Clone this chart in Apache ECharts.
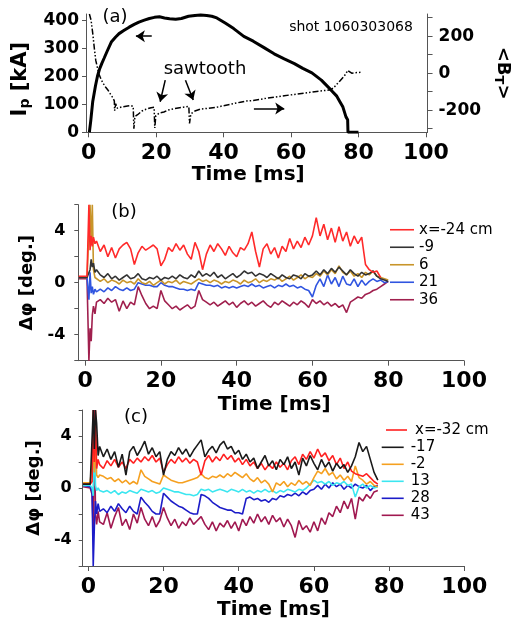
<!DOCTYPE html>
<html><head><meta charset="utf-8">
<script src="https://cdn.jsdelivr.net/npm/echarts@6/dist/echarts.min.js"></script>
<style>html,body{margin:0;padding:0;background:#fff}#c{width:520px;height:621px}</style>
</head><body><div id="c"></div>
<script>
// ---------- Panel (a): plasma current and <B_T> ----------
const ipTime = [0.2,0.6,1.2,2.0,2.6,3.2,3.9,4.6,5.5,6.7,8,9,10.4,12,13.5,14.9,16.5,18,19.5,21,22.5,24,25.8,27.5,29.6,31.5,33.2,35,36.5,38,40.6,43,46,48.8,52,55,58,61,63.5,66.2,69,71.7,73.5,74.5,75.4,76.3,76.8,76.9,78,79,80];
const ipValues = [0,40,110,165,200,225,246,265,290,322,340,352,363,375,385,393,400,406,410,412,408,405,403,406,414,417,418,417,414,408,389,370,342,325,302,280,262,245,228,212,186,153,130,109,90,55,45,0,0,0,0];
const btTime = [0.2,0.7,1.2,1.7,2.1,3,3.7,4.4,5.1,5.8,6.5,7.1,7.6,7.7,8,8.5,9,10,11.5,12.5,13.2,13.4,13.7,14.5,15.8,17,18.5,19.4,19.6,19.9,21,22.3,23.5,25,26.5,28,29.7,29.9,30.3,31.5,33.2,35.5,37.8,40,42.4,45,47,48.8,52,55,58,61,64,67,70,71.7,72.6,73.5,74.5,75.5,76.3,76.8,77.3,78,79,80.9];
const btValues = [320,287,215,130,69,-3,-35,-58,-78,-94,-115,-131,-150,-203,-165,-190,-185,-182,-178,-176,-180,-300,-235,-225,-205,-195,-187,-185,-297,-230,-215,-210,-200,-194,-188,-184,-180,-272,-220,-205,-194,-190,-185,-176,-167,-157,-150,-148,-138,-130,-122,-115,-108,-100,-94,-90,-80,-62,-42,-22,-3,15,8,0,2,5];

// ---------- Panel (b) ----------
const timeB = [-1.7,0.5,1,1.3,1.6,1.9,2.2,2.6,3,4,5,6,7,8,9,10,11,12,13,14,15,16,17,18,19,20,21,22,23,24,25,26,27,28,29,30,31,32,33,34,35,36,37,38,39,40,41,42,43,44,45,46,47,48,49,50,51,52,53,54,55,56,57,58,59,60,61,62,63,64,65,66,67,68,69,70,71,72,73,74,75,76,77,78,79,80];
const bRed = [0.5,0.5,6,2.5,3.6,2.8,3.5,3.0,3.2,
 2.4,2.9,2.0,2.7,1.9,2.6,2.9,3.1,2.6,1.4,
 2.3,2.8,2.5,2.7,2.9,2.6,1.3,1.8,2.7,2.4,
 3.0,2.5,2.9,2.2,1.8,3.1,2.4,1.0,2.2,2.9,
 2.4,3.0,2.6,2.1,2.8,2.3,2.0,2.7,2.5,3.0,
 3.9,2.4,1.2,2.6,3.0,2.2,2.7,1.9,2.8,2.4,
 3.4,2.6,3.2,2.7,3.5,2.9,3.6,5.0,3.6,4.5,
 3.3,4.2,3.1,4.3,3.2,3.9,2.8,3.6,3.0,3.5,
 1.4,1.0,0.8,0.9,0.4,null,null];
const bBlack = [0.4,0.4,0.3,1.0,1.8,1.2,1.5,0.8,1.0,
 0.6,0.4,0.7,0.3,0.5,0.2,0.4,0.6,0.3,0.4,
 0.7,0.3,0.2,0.4,0.3,0.5,0.2,0.4,0.3,0.5,
 0.3,0.6,0.4,0.3,0.6,0.4,0.9,0.5,0.7,0.5,
 0.8,0.4,0.6,0.3,0.5,0.7,0.4,0.6,0.9,0.7,
 0.8,0.5,0.7,0.6,0.4,0.7,0.5,0.3,0.6,0.4,
 0.3,0.6,0.5,0.3,0.7,0.5,0.6,0.9,0.6,1.0,
 0.7,1.1,0.8,1.2,0.9,0.6,1.0,0.7,0.5,0.8,
 0.6,0.7,0.9,0.5,0.3,0.2,0.1];
const bGold = [0.4,0.4,0.4,6,3,6,1.0,0.4,0.3,
 0.1,0.3,0.0,0.2,0.1,-0.1,0.2,0.0,0.1,-0.1,
 0.3,0.0,-0.1,0.1,-0.2,0.0,0.2,-0.1,0.1,0.0,
 0.2,-0.1,0.1,0.0,-0.1,0.1,0.3,0.1,0.2,0.0,
 0.2,0.1,-0.1,0.1,0.0,0.2,0.1,-0.1,0.2,0.0,
 0.1,0.3,0.0,0.2,0.1,0.3,0.2,0.4,0.1,0.3,
 0.5,0.2,0.4,0.6,0.3,0.5,0.4,0.7,0.5,0.9,
 0.6,1.0,0.7,1.3,0.8,0.6,0.9,0.5,0.7,0.4,
 0.8,0.6,0.9,0.5,0.4,0.3,0.2];
const bBlue = [0.4,0.4,-1.3,0.8,-0.8,-0.3,-0.9,-0.5,-0.7,
 -0.5,-0.7,-0.4,-0.6,-0.3,-0.5,-0.6,-0.4,-0.6,-0.5,
 0.0,-0.1,-0.2,-0.2,-0.3,-0.3,0.0,-0.2,-0.3,-0.3,
 -0.4,-0.5,-0.5,-0.6,-0.5,-0.6,0.0,-0.1,-0.2,-0.2,
 -0.3,-0.2,-0.4,-0.3,-0.4,-0.3,-0.4,-0.3,-0.2,-0.3,
 -0.1,-0.3,-0.2,-0.4,-0.3,-0.2,-0.4,-0.2,-0.3,-0.1,
 -0.3,-0.2,-0.4,-0.3,-0.5,-0.6,-1.1,-0.2,0.3,-0.3,
 0.6,-0.1,0.4,-0.3,0.5,-0.1,-0.2,0.3,-0.3,0.2,
 -0.2,0.1,0.3,0.1,0.2,0.0,0.1];
const bMaroon = [0.3,0.3,-6,-3.5,-4.5,-2.5,-1.8,-2.4,-1.5,
 -1.3,-1.6,-1.2,-1.5,-1.3,-2.2,-1.4,-2.0,-1.5,-1.7,
 -0.3,-1.0,-1.6,-2.0,-1.8,-2.0,-0.6,-1.4,-1.7,-2.0,
 -1.8,-2.1,-1.9,-1.7,-2.0,-1.8,-0.6,-1.3,-1.5,-1.7,
 -1.5,-1.8,-1.6,-1.4,-1.7,-1.5,-1.9,-1.6,-1.4,-1.7,
 -1.5,-1.8,-1.6,-1.4,-1.7,-1.9,-1.5,-1.7,-1.4,-1.6,
 -1.8,-1.5,-1.7,-1.4,-1.6,-1.9,-1.3,-1.6,-1.4,-1.7,
 -1.5,-1.8,-1.6,-1.9,-1.7,-2.3,-1.5,-1.3,-1.1,-1.2,
 -0.9,-0.8,-0.6,-0.5,-0.3,-0.1,0.1];

// ---------- Panel (c) ----------
const timeC = [-1.4,0.5,1,1.3,1.6,1.9,2.2,2.6,3,4,5,6,7,8,9,10,11,12,13,14,15,16,17,18,19,20,21,22,23,24,25,26,27,28,29,30,31,32,33,34,35,36,37,38,39,40,41,42,43,44,45,46,47,48,49,50,51,52,53,54,55,56,57,58,59,60,61,62,63,64,65,66,67,68,69,70,71,72,73,74,75,76,77];
const cRed = [0.3,0.3,0.5,6,2.0,6,1.5,2.2,1.8,
 1.5,2.1,1.7,2.2,1.6,2.0,1.5,2.2,1.9,2.3,
 2.0,2.4,2.1,2.5,2.0,2.3,1.2,1.8,2.2,1.9,
 2.4,2.0,2.3,1.9,2.2,2.0,1.0,2.1,2.5,2.0,
 2.4,2.1,2.6,2.2,2.5,2.0,2.3,1.8,2.2,1.7,
 2.0,1.5,1.9,1.4,1.8,1.5,2.0,1.6,1.9,1.4,
 2.1,2.4,1.8,2.6,2.2,2.8,2.3,3.0,2.4,2.7,
 2.1,2.5,1.8,2.3,1.5,2.0,1.3,1.1,1.0,0.9,
 1.1,0.8,0.5,0.3];
const cBlack = [0.3,0.3,0.2,6,3.0,6,5.0,2.5,3.2,
 2.4,3.0,2.2,2.8,1.6,2.6,1.0,2.8,3.2,2.5,
 3.0,3.6,2.6,3.1,2.4,2.8,1.0,2.2,2.8,2.5,
 3.1,2.6,3.0,2.4,2.9,3.3,3.7,2.4,2.9,3.2,
 2.7,3.3,3.6,3.0,3.2,2.6,2.9,2.2,2.6,2.0,
 2.3,1.5,2.0,2.5,1.7,2.1,1.4,2.2,1.8,2.4,
 1.5,2.0,1.0,2.3,1.7,2.5,1.9,1.4,2.2,1.6,
 2.0,1.3,1.9,1.5,1.8,1.2,1.7,2.4,3.5,2.8,
 3.2,2.2,1.2,0.6];
const cOrange = [0.4,0.4,0.3,3,1.2,4.5,1.0,0.8,1.0,
 0.9,0.7,0.8,0.5,0.7,0.4,0.6,0.3,0.5,0.3,
 1.4,0.9,0.7,0.5,0.4,0.3,1.0,0.8,0.6,0.5,
 0.4,0.4,0.5,0.6,0.7,0.8,1.1,0.8,0.7,0.9,
 0.8,1.0,0.8,1.1,0.9,1.2,1.0,0.8,1.1,0.7,
 0.5,0.8,0.4,0.6,0.3,-0.3,0.4,0.2,0.5,0.1,
 0.4,0.2,0.6,0.3,0.5,0.2,0.8,1.3,1.1,1.5,
 1.0,1.2,0.7,1.0,0.6,0.9,0.5,1.7,0.8,0.6,
 0.3,0.5,0.2,0.1];
const cCyan = [0.2,0.2,0.0,-0.6,4.0,0.2,-0.2,0.0,-0.2,
 -0.3,-0.2,-0.4,-0.2,-0.5,-0.3,-0.4,-0.2,-0.3,-0.4,
 -0.1,-0.2,-0.3,-0.2,-0.4,-0.3,0.0,-0.1,-0.2,-0.3,
 -0.3,-0.4,-0.5,-0.5,-0.6,-0.5,-0.1,-0.2,-0.1,-0.3,
 -0.2,-0.1,-0.2,-0.3,-0.1,-0.2,-0.3,-0.1,-0.3,-0.2,
 -0.4,-0.2,-0.3,-0.1,-0.3,-0.2,-0.4,-0.2,-0.3,-0.1,
 -0.2,-0.3,-0.1,-0.2,0.0,0.3,0.6,0.4,0.5,0.3,
 0.5,0.2,0.4,0.3,0.5,0.2,0.3,-0.7,0.1,0.3,
 0.0,0.2,0.0,0.1];
const cBlue = [0.2,0.1,-0.3,-6,-3,-1.0,-2.0,-1.2,-1.8,
 -1.6,-1.9,-1.4,-1.8,-1.2,-1.6,-1.9,-1.4,-1.8,-2.0,
 -0.7,-1.1,-1.4,-1.8,-2.0,-2.0,-0.4,-0.7,-1.0,-1.2,
 -1.4,-1.5,-1.7,-1.9,-2.0,-2.0,-0.5,-0.6,-0.8,-1.1,
 -1.3,-1.5,-1.6,-1.7,-1.7,-1.9,-1.9,-2.0,-0.8,-0.7,
 -0.9,-0.8,-1.0,-0.9,-1.1,-0.8,-0.9,-0.6,-0.7,-0.5,
 -0.6,-0.4,-0.6,-0.3,-0.5,-0.2,-0.1,0.2,-0.1,0.3,
 0.0,0.4,0.1,0.3,-0.1,0.2,0.0,0.3,0.1,0.0,
 0.2,-0.2,0.1,0.2];
const cMaroon = [0.1,0.0,-0.5,-3.5,6,-2.0,-2.8,-1.8,-2.6,
 -2.8,-1.9,-3.1,-2.2,-1.5,-2.9,-2.4,-3.2,-2.0,-2.7,
 -1.5,-2.4,-2.9,-2.2,-3.0,-2.5,-1.5,-2.3,-2.9,-2.4,
 -3.1,-2.6,-2.9,-2.3,-2.8,-2.5,-2.2,-2.8,-3.2,-2.6,
 -3.3,-2.7,-3.0,-2.5,-3.1,-2.6,-3.3,-2.4,-2.9,-2.2,
 -2.7,-2.0,-2.6,-2.2,-2.8,-2.1,-2.6,-2.3,-3.0,-2.4,
 -2.9,-3.8,-2.5,-3.2,-2.9,-3.4,-2.6,-3.3,-2.3,-2.8,
 -1.9,-2.2,-1.4,-1.9,-1.0,-1.6,-0.8,-2.4,-0.7,-1.0,
 -0.5,-0.8,-0.3,-0.2];

// ---------- ticks / labels ----------
const xTickValues = [0,20,40,60,80,100];
const btTickValues = [-300,-200,-100,0,100,200,300];
const btLabelValues = [-200,0,200];
const phiTickValues = [-6,-4,-2,0,2,4,6];
const phiLabelValues = [-4,0,4];
const namesB = ['x=-24 cm','-9','6','21','36'];
const namesC = ['x=-32 cm','-17','-2','13','28','43'];

const FONT = 'DejaVu Sans';
const AX = '#555';
const pairs = (t, v) => t.map((x, i) => [x, v[i]]);

function xAxisCfg(grid, min, max, gap, pad) {
  return {
    type: 'value', gridIndex: grid, min: min, max: max,
    axisLine: {onZero: false, lineStyle: {color: AX, width: 1}},
    axisTick: {customValues: xTickValues, length: 5, lineStyle: {color: AX}},
    axisLabel: {customValues: xTickValues, fontSize: 22, fontWeight: 'bold', fontFamily: FONT, color: '#000', margin: 10},
    splitLine: {show: false},
    name: 'Time [ms]', nameLocation: 'middle', nameGap: gap,
    nameTextStyle: {fontSize: 20, fontWeight: 'bold', fontFamily: FONT, color: '#000', padding: pad}
  };
}
function phiAxis(grid, margin, gap) {
  return {
    type: 'value', gridIndex: grid, min: -6, max: 6,
    axisLine: {onZero: false, lineStyle: {color: AX}},
    axisTick: {customValues: phiTickValues, length: 4, lineStyle: {color: AX}},
    axisLabel: {customValues: phiLabelValues, fontSize: 16, fontWeight: 'bold', fontFamily: FONT, color: '#000', margin: margin},
    splitLine: {show: false},
    name: 'Δφ [deg.]', nameLocation: 'middle', nameGap: gap,
    nameTextStyle: {fontSize: 18, fontWeight: 'bold', fontFamily: FONT, color: '#000'}
  };
}
function phiSeries(name, t, v, color, xi, yi) {
  return {type: 'line', name: name, xAxisIndex: xi, yAxisIndex: yi, data: pairs(t, v),
    showSymbol: false, color: color, lineStyle: {width: 1.6, color: color}, connectNulls: false, silent: true};
}

const option = {
  animation: false,
  backgroundColor: '#fff',
  textStyle: {fontFamily: FONT, color: '#000'},
  grid: [
    {left: 86, right: 65, top: 14, height: 118.3},
    {left: 78.3, right: 56, top: 204.7, height: 156},
    {left: 82.7, right: 55.7, top: 410, height: 156}
  ],
  xAxis: [
    xAxisCfg(0, -0.8, 100.5, 24, [0, 17, 0, 0]),
    xAxisCfg(1, -1.8, 100, 34, [0, 0, 0, 6]),
    xAxisCfg(2, -1.5, 100, 34, [0, 0, 0, 0])
  ],
  yAxis: [
    {type: 'value', gridIndex: 0, min: 0, max: 422, interval: 100, position: 'left',
     axisLine: {onZero: false, lineStyle: {color: AX}},
     axisTick: {length: 4, lineStyle: {color: AX}},
     axisLabel: {fontSize: 17, fontWeight: 'bold', fontFamily: FONT, color: '#000', margin: 7},
     splitLine: {show: false},
     name: '{b|I}{s|p}{b| [kA]}', nameLocation: 'middle', nameGap: 47,
     nameTextStyle: {padding: [0, 12, 0, 0], rich: {
       b: {fontSize: 21, fontWeight: 'bold', fontFamily: FONT, color: '#000'},
       s: {fontSize: 14, fontWeight: 'bold', fontFamily: FONT, color: '#000', padding: [10, 0, 0, 0]}}}},
    {type: 'value', gridIndex: 0, min: -320, max: 320, position: 'right',
     axisLine: {onZero: false, lineStyle: {color: AX}},
     axisTick: {customValues: btTickValues, length: 5, lineStyle: {color: AX}},
     axisLabel: {customValues: btLabelValues, fontSize: 17, fontWeight: 'bold', fontFamily: FONT, color: '#000', margin: 11},
     splitLine: {show: false},
     name: '{b|<B}{s|T}{b|>}', nameLocation: 'middle', nameGap: 46, nameRotate: -90,
     nameTextStyle: {rich: {
       b: {fontSize: 18, fontWeight: 'bold', fontFamily: FONT, color: '#000'},
       s: {fontSize: 13, fontWeight: 'bold', fontFamily: FONT, color: '#000', padding: [9, 0, 0, 0]}}}},
    phiAxis(1, 13, 36),
    phiAxis(2, 11, 39)
  ],
  legend: [
    {data: namesB, orient: 'vertical', left: 390, top: 221, padding: 0, itemGap: 0,
     itemWidth: 24, itemHeight: 1.6, icon: 'rect', selectedMode: false,
     textStyle: {fontSize: 15, lineHeight: 17.5, fontFamily: FONT, color: '#000'}},
    {data: [namesC[0]], orient: 'vertical', left: 386, top: 421.5, padding: 0, itemGap: 0,
     itemWidth: 21, itemHeight: 1.6, icon: 'rect', selectedMode: false,
     textStyle: {fontSize: 15, lineHeight: 17, fontFamily: FONT, color: '#000', padding: [0, 0, 0, 3]}},
    {data: namesC.slice(1), orient: 'vertical', left: 381.7, top: 438.8, padding: 0, itemGap: 0,
     itemWidth: 22, itemHeight: 1.6, icon: 'rect', selectedMode: false,
     textStyle: {fontSize: 15, lineHeight: 17, fontFamily: FONT, color: '#000', padding: [0, 0, 0, 2]}}
  ],
  series: [
    {type: 'line', name: 'Ip', xAxisIndex: 0, yAxisIndex: 0, data: pairs(ipTime, ipValues),
     showSymbol: false, silent: true, lineStyle: {width: 3, color: '#000'}, color: '#000', z: 3,
     markLine: {silent: true, symbol: ['none', 'arrow'], symbolSize: 9, animation: false,
       label: {show: false}, lineStyle: {color: '#000', width: 1.5, type: 'solid'},
       emphasis: {disabled: true},
       data: [
         [{coord: [18.7, 343]}, {coord: [14.0, 343]}],
         [{coord: [49.0, 85]}, {coord: [58.0, 85]}],
         [{coord: [22.7, 186]}, {coord: [21.2, 109]}],
         [{coord: [28.7, 186]}, {coord: [31.0, 115]}]
       ]}},
    {type: 'line', name: 'BT', xAxisIndex: 0, yAxisIndex: 1, data: pairs(btTime, btValues),
     showSymbol: false, silent: true, color: '#000',
     lineStyle: {width: 1.5, color: '#000', type: [6, 2, 1.5, 2, 1.5, 2]}},

    phiSeries('36', timeB, bMaroon, '#a0204e', 1, 2),
    phiSeries('21', timeB, bBlue, '#3055e0', 1, 2),
    phiSeries('6', timeB, bGold, '#c8952a', 1, 2),
    phiSeries('-9', timeB, bBlack, '#333333', 1, 2),
    phiSeries('x=-24 cm', timeB, bRed, '#ff2a2a', 1, 2),

    phiSeries('43', timeC, cMaroon, '#a01850', 2, 3),
    phiSeries('28', timeC, cBlue, '#1c1cc8', 2, 3),
    phiSeries('13', timeC, cCyan, '#3ce6f0', 2, 3),
    phiSeries('-2', timeC, cOrange, '#f5a020', 2, 3),
    phiSeries('x=-32 cm', timeC, cRed, '#ff2020', 2, 3),
    phiSeries('-17', timeC, cBlack, '#1a1a1a', 2, 3)
  ],
  graphic: [
    {type: 'text', x: 115, y: 17, style: {text: '(a)', font: '18px "DejaVu Sans"', fill: '#000', align: 'center', verticalAlign: 'middle', textAlign: 'center', textVerticalAlign: 'middle'}},
    {type: 'text', x: 351, y: 27, style: {text: 'shot 1060303068', font: '14px "DejaVu Sans"', fill: '#000', align: 'center', verticalAlign: 'middle', textAlign: 'center', textVerticalAlign: 'middle'}},
    {type: 'text', x: 205, y: 69, style: {text: 'sawtooth', font: '18px "DejaVu Sans"', fill: '#000', align: 'center', verticalAlign: 'middle', textAlign: 'center', textVerticalAlign: 'middle'}},
    {type: 'text', x: 124, y: 212, style: {text: '(b)', font: '18px "DejaVu Sans"', fill: '#000', align: 'center', verticalAlign: 'middle', textAlign: 'center', textVerticalAlign: 'middle'}},
    {type: 'text', x: 136, y: 417, style: {text: '(c)', font: '18px "DejaVu Sans"', fill: '#000', align: 'center', verticalAlign: 'middle', textAlign: 'center', textVerticalAlign: 'middle'}}
  ]
};

const chart = echarts.init(document.getElementById('c'), null, {renderer: 'canvas', width: 520, height: 621});
chart.setOption(option);
</script>
</body></html>
